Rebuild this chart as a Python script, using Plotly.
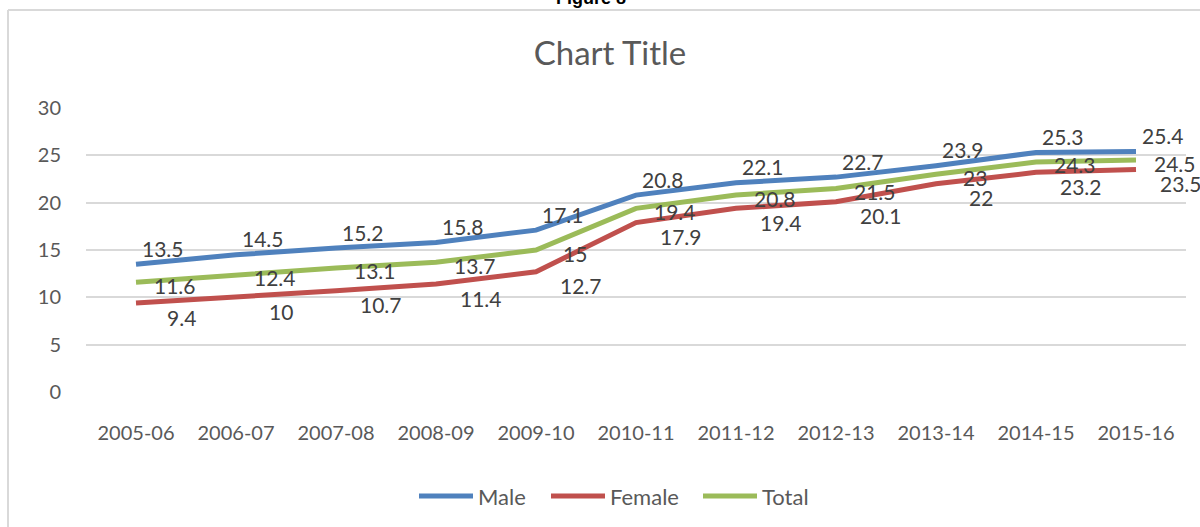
import plotly.graph_objects as go

categories = ["2005-06", "2006-07", "2007-08", "2008-09", "2009-10", "2010-11",
              "2011-12", "2012-13", "2013-14", "2014-15", "2015-16"]
male = [13.5, 14.5, 15.2, 15.8, 17.1, 20.8, 22.1, 22.7, 23.9, 25.3, 25.4]
female = [9.4, 10, 10.7, 11.4, 12.7, 17.9, 19.4, 20.1, 22, 23.2, 23.5]
total = [11.6, 12.4, 13.1, 13.7, 15, 19.4, 20.8, 21.5, 23, 24.3, 24.5]
y_ticks = [0, 5, 10, 15, 20, 25, 30]

FONT = "Lato, Open Sans, sans-serif"
# name, values, colour, label x-offset, label y-offset (px), legend line start (px)
series = [
    ("Male", male, "#4F81BD", 27, -16, 419),
    ("Female", female, "#C0504D", 45, 14, 551),
    ("Total", total, "#9BBB59", 39, 3, 703),
]

W, H = 1200, 527
PL, PR, PT, PB = 86, 1186, 108, 392
px2x = lambda px: (px - PL) / (PR - PL)
py2y = lambda py: (PB - py) / (PB - PT)

fig = go.Figure()
annotations = []
shapes = []
LEG_Y = 496
for name, vals, color, dx, dy, lx in series:
    fig.add_trace(go.Scatter(
        x=categories, y=vals, name=name, mode="lines",
        line=dict(color=color, width=5), showlegend=False,
    ))
    for c, v in zip(categories, vals):
        annotations.append(dict(
            x=c, y=v, xref="x", yref="y", text=f"{v:g}", showarrow=False,
            xshift=dx, yshift=-dy,
            font=dict(family=FONT, size=21, color="#404040"),
        ))
    # legend entry
    shapes.append(dict(type="line", xref="paper", yref="paper",
                       x0=px2x(lx), x1=px2x(lx + 54), y0=py2y(LEG_Y), y1=py2y(LEG_Y),
                       line=dict(color=color, width=5)))
    annotations.append(dict(
        x=px2x(lx + 57), y=py2y(LEG_Y), xref="paper", yref="paper", text=name,
        xanchor="left", yanchor="middle", showarrow=False,
        font=dict(family=FONT, size=22, color="#595959"),
    ))

annotations.append(dict(
    x=px2x(591), y=py2y(-2), xref="paper", yref="paper", text="<b>Figure 8</b>",
    yanchor="middle", showarrow=False,
    font=dict(family="Arial", size=18, color="#000000"),
))

shapes.append(dict(type="line", xref="paper", yref="paper",
                   x0=px2x(8), x1=px2x(W + 10), y0=py2y(10), y1=py2y(10),
                   line=dict(color="#D9D9D9", width=2)))
shapes.append(dict(type="line", xref="paper", yref="paper",
                   x0=px2x(8), x1=px2x(8), y0=py2y(10), y1=py2y(H + 10),
                   line=dict(color="#D9D9D9", width=2)))

fig.update_layout(
    width=W, height=H,
    margin=dict(l=PL, r=W - PR, t=PT, b=H - PB, autoexpand=False),
    paper_bgcolor="white", plot_bgcolor="white",
    title=dict(text="Chart Title", x=610 / W, xref="container", xanchor="center",
               y=1 - 53 / H, yref="container", yanchor="middle",
               font=dict(family=FONT, size=33, color="#595959")),
    showlegend=False,
    xaxis=dict(type="category", showgrid=False, showline=False, zeroline=False, ticks="",
               automargin=False,
               tickfont=dict(family=FONT, size=20, color="#595959"),
               ticklabelstandoff=27, range=[-0.5, 10.5]),
    yaxis=dict(range=[0, 30], tickvals=y_ticks, showgrid=True, gridcolor="#D9D9D9",
               gridwidth=1.5, zeroline=False, showline=False, ticks="",
               automargin=False,
               tickfont=dict(family=FONT, size=20, color="#595959"),
               ticklabelstandoff=24),
    annotations=annotations,
    shapes=shapes,
)

fig.write_html("out.html", config={"displayModeBar": False},
               post_script="document.body.style.margin='0px';document.body.style.overflow='hidden';")
